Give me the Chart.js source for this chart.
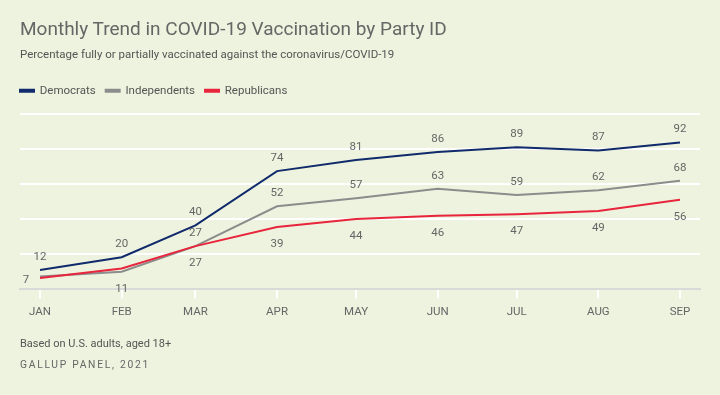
<!DOCTYPE html>
<html>
<head>
<meta charset="utf-8">
<script src="https://cdn.jsdelivr.net/npm/chart.js@4"></script>
<style>
  body { margin: 0; background: #edf3de; }
  #wrap { position: relative; width: 720px; height: 395px; background: #edf3de; font-family: Roboto, "Noto Sans", sans-serif; }
  #myChart { position: absolute; left: 0; top: 0; }
  .txt { position: absolute; left: 20px; line-height: 1; white-space: nowrap; }
  #titulo { top: 18.7px; font-size: 19px; color: #666; }
  #subtitulo { top: 49.3px; font-size: 11.5px; color: #555; }
  #nota { top: 338px; font-size: 11px; color: #555; }
  #fuente { top: 359.6px; font-size: 10.3px; color: #666; letter-spacing: 1.7px; }
</style>
</head>
<body>
<div id="wrap">
  <canvas id="myChart" width="720" height="395"></canvas>
  <div class="txt" id="titulo">Monthly Trend in COVID-19 Vaccination by Party ID</div>
  <div class="txt" id="subtitulo">Percentage fully or partially vaccinated against the coronavirus/COVID-19</div>
  <div class="txt" id="nota">Based on U.S. adults, aged 18+</div>
  <div class="txt" id="fuente">GALLUP PANEL, 2021</div>
</div>
<script>
// months and their day offsets from Jan 1 (x axis is time-like)
var months = ["JAN", "FEB", "MAR", "APR", "MAY", "JUN", "JUL", "AUG", "SEP"];
var monthDays = [0, 31, 59, 90, 120, 151, 181, 212, 243];
var democrats = [12, 20, 40, 74, 81, 86, 89, 87, 92];
var independents = [8, 11, 27, 52, 57, 63, 59, 62, 68];
var republicans = [7, 13, 27, 39, 44, 46, 47, 49, 56];
var gridValues = [0, 22, 44, 66, 88, 110];

const fuenteTxt = "Roboto, 'Noto Sans', sans-serif";
const puntos = (vals) => vals.map((v, i) => ({x: monthDays[i], y: v}));

// where each series puts its value labels
var lado = {
    Democrats: {pos: "above"},
    Independents: {pos: "above", hide: [0], below: [1]},
    Republicans: {pos: "below", hide: [1], left: [0]}
};

const etiquetas = {
    id: "etiquetas",
    afterDatasetsDraw(chart) {
        const ctx = chart.ctx;
        ctx.save();
        ctx.font = "11.5px " + fuenteTxt;
        ctx.fillStyle = "#666";
        ctx.textAlign = "center";
        ctx.textBaseline = "middle";
        chart.data.datasets.forEach((ds, di) => {
            const cfg = lado[ds.label];
            chart.getDatasetMeta(di).data.forEach((p, i) => {
                if (cfg.hide && cfg.hide.includes(i)) return;
                let x = p.x, y = p.y;
                if (cfg.left && cfg.left.includes(i)) { x -= 14; y += 2; }
                else if (cfg.pos == "below" || (cfg.below && cfg.below.includes(i))) y += 17;
                else y -= 13;
                ctx.fillText(ds.data[i].y, x, y);
            });
        });
        ctx.restore();
    }
};

new Chart("myChart", {
    type: "line",
    data: {
        datasets: [{
            label: "Democrats",
            data: puntos(democrats),
            borderColor: "#102a6b",
            backgroundColor: "#102a6b",
            order: 1
        }, {
            label: "Independents",
            data: puntos(independents),
            borderColor: "#8c8c8c",
            backgroundColor: "#8c8c8c",
            order: 2
        }, {
            label: "Republicans",
            data: puntos(republicans),
            borderColor: "#e8253c",
            backgroundColor: "#e8253c",
            order: 0
        }]
    },
    options: {
        responsive: false,
        animation: false,
        layout: { padding: { top: 75, left: 10, right: 20, bottom: 69 } },
        elements: {
            line: { borderWidth: 2, tension: 0 },
            point: { radius: 0 }
        },
        plugins: {
            tooltip: { enabled: false },
            legend: {
                align: "start",
                labels: {
                    boxWidth: 14,
                    boxHeight: 2,
                    padding: 10,
                    color: "#555",
                    font: { family: fuenteTxt, size: 11.5 },
                    sort: (a, b) => a.datasetIndex - b.datasetIndex
                }
            }
        },
        scales: {
            x: {
                type: "linear",
                min: -7.6,
                max: 250.6,
                afterBuildTicks: (s) => { s.ticks = monthDays.map(v => ({value: v})); },
                ticks: {
                    padding: 7,
                    color: "#666",
                    font: { family: fuenteTxt, size: 11.5 },
                    callback: (v) => months[monthDays.indexOf(v)]
                },
                grid: { drawOnChartArea: false, drawTicks: true, tickLength: 9, color: "#ffffff", lineWidth: 2 },
                border: { color: "#d9d9d9", width: 2 }
            },
            y: {
                min: 0,
                max: 114.5,
                afterBuildTicks: (s) => { s.ticks = gridValues.map(v => ({value: v})); },
                afterFit: (s) => { s.width = 10; },
                ticks: { display: false },
                grid: {
                    drawTicks: false,
                    lineWidth: 2,
                    color: (c) => c.tick && c.tick.value == 0 ? "rgba(0,0,0,0)" : "#ffffff"
                },
                border: { display: false }
            }
        }
    },
    plugins: [etiquetas]
});
</script>
</body>
</html>
